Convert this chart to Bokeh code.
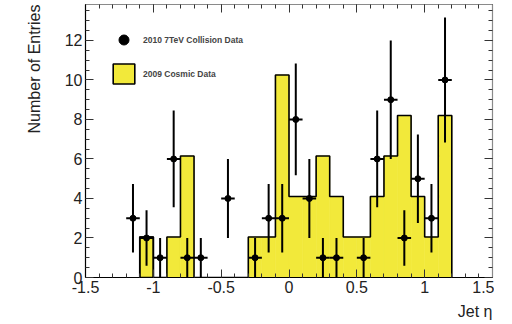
from bokeh.plotting import figure
from bokeh.models import (Range1d, SingleIntervalTicker, LinearAxis, Legend,
                          LegendItem, Title, CustomJSTickFormatter)
from bokeh.embed import file_html
from bokeh.resources import INLINE

# ---- data ----
bin_low = [-1.1, -1.0, -0.9, -0.8, -0.7, -0.6, -0.5, -0.4, -0.3, -0.2, -0.1,
           0.0, 0.1, 0.2, 0.3, 0.4, 0.5, 0.6, 0.7, 0.8, 0.9, 1.0, 1.1]
cosmic = [2.05, 0, 2.05, 6.15, 0, 0, 0, 0, 2.05, 2.05, 10.25,
          4.1, 4.1, 6.15, 4.1, 2.05, 2.05, 4.1, 6.15, 8.2, 4.1, 2.05, 8.2]
bin_width = 0.1

coll_eta = [-1.15, -1.05, -0.95, -0.85, -0.75, -0.65, -0.45, -0.25, -0.15, -0.05,
            0.05, 0.15, 0.25, 0.35, 0.55, 0.65, 0.75, 0.85, 0.95, 1.05, 1.15]
coll_n = [3, 2, 1, 6, 1, 1, 4, 1, 3, 3, 8, 4, 1, 1, 1, 6, 9, 2, 5, 3, 10]
coll_err = [1.73, 1.41, 1.0, 2.45, 1.0, 1.0, 2.0, 1.0, 1.73, 1.73, 2.83,
            2.0, 1.0, 1.0, 1.0, 2.45, 3.0, 1.41, 2.24, 1.73, 3.16]
x_ticks = [-1.5, -1.0, -0.5, 0.0, 0.5, 1.0, 1.5]
x_tick_labels = ["-1.5", "-1", "-0.5", "0", "0.5", "1", "1.5"]

YELLOW = "#f2e93a"
FONT = "Liberation Sans"

p = figure(width=494, height=324,
           x_range=Range1d(-1.5, 1.5), y_range=Range1d(0, 13.82),
           output_backend="svg", toolbar_location=None,
           min_border_left=85, min_border_top=4, min_border_right=2,
           min_border_bottom=47)
p.xgrid.visible = False
p.ygrid.visible = False
p.outline_line_color = None
p.background_fill_color = "white"
p.border_fill_color = "white"

# histogram fill
bin_high = [b + bin_width for b in bin_low]
p.quad(left=bin_low, right=bin_high, bottom=0, top=cosmic,
       fill_color=YELLOW, line_color=YELLOW, line_width=0.6)
# box used for the legend entry (first bin, identical to its outline)
legend_box = p.quad(left=bin_low[:1], right=bin_high[:1], bottom=0, top=cosmic[:1],
                    fill_color=YELLOW, line_color="black", line_width=1.6)
# histogram outline
xs = [bin_low[0]] + bin_low + [bin_high[-1]]
ys = [0] + cosmic + [0]
p.step(xs, ys, mode="after", line_color="black", line_width=1.6)

# collision data
lo = [n - e for n, e in zip(coll_n, coll_err)]
hi = [n + e for n, e in zip(coll_n, coll_err)]
p.segment(x0=coll_eta, x1=coll_eta, y0=lo, y1=hi, line_color="black", line_width=2)
p.segment(x0=[e - bin_width / 2 for e in coll_eta], x1=[e + bin_width / 2 for e in coll_eta],
          y0=coll_n, y1=coll_n, line_color="black", line_width=2)
pts = p.scatter(coll_eta, coll_n, marker="circle", size=6, color="black")

legend = Legend(items=[LegendItem(label="2010 7TeV Collision Data", renderers=[pts]),
                       LegendItem(label="2009 Cosmic Data", renderers=[legend_box])],
                location=(25, 191), glyph_width=27, glyph_height=25, spacing=9,
                padding=0, margin=0, label_standoff=6,
                label_text_font=FONT, label_text_font_style="bold",
                label_text_font_size="8.5px", label_text_baseline="middle",
                border_line_color=None, background_fill_alpha=0)
p.add_layout(legend, "center")

# axes
def style_axis(ax, labels=True, line_color="black"):
    ax.major_tick_in = 8
    ax.major_tick_out = 0
    ax.minor_tick_in = 4
    ax.minor_tick_out = 0
    ax.axis_line_color = line_color
    ax.axis_line_width = 1.2
    ax.major_tick_line_color = "#333333"
    ax.minor_tick_line_color = "#333333"
    if labels:
        ax.major_label_text_font = FONT
        ax.major_label_text_font_size = "16px"
        ax.major_label_text_color = "#222222"
        ax.major_label_standoff = 3
    else:
        ax.formatter = CustomJSTickFormatter(code="return ''")
        ax.major_label_text_font_size = "0px"
        ax.major_label_standoff = 0

xt = SingleIntervalTicker(interval=0.5, num_minor_ticks=5)
yt = SingleIntervalTicker(interval=2, num_minor_ticks=4)
xax = p.xaxis[0]
yax = p.yaxis[0]
xax.ticker = xt
yax.ticker = yt
xax.major_label_overrides = {t: l for t, l in zip(x_ticks, x_tick_labels)}
style_axis(xax)
style_axis(yax)

top = LinearAxis(ticker=xt)
style_axis(top, labels=False, line_color="#8a8a8a")
p.add_layout(top, "above")
right = LinearAxis(ticker=yt)
style_axis(right, labels=False, line_color="#8a8a8a")
p.add_layout(right, "right")

# invisible spacer between the y tick labels and the y title
spacer = LinearAxis(ticker=yt)
style_axis(spacer, labels=False, line_color=None)
spacer.major_tick_in = 0
spacer.major_tick_out = 14
spacer.minor_tick_in = 0
spacer.major_tick_line_color = None
spacer.minor_tick_line_color = None
p.add_layout(spacer, "left")

# axis titles
p.add_layout(Title(text="Number of Entries", align="right",
                   text_font=FONT, text_font_size="16px", text_font_style="normal",
                   text_color="#222222"), "left")
p.add_layout(Title(text="Jet η", align="right", standoff=10,
                   text_font=FONT, text_font_size="16px", text_font_style="normal",
                   text_color="#222222"), "below")

open("out.html", "w").write(file_html(p, INLINE))
